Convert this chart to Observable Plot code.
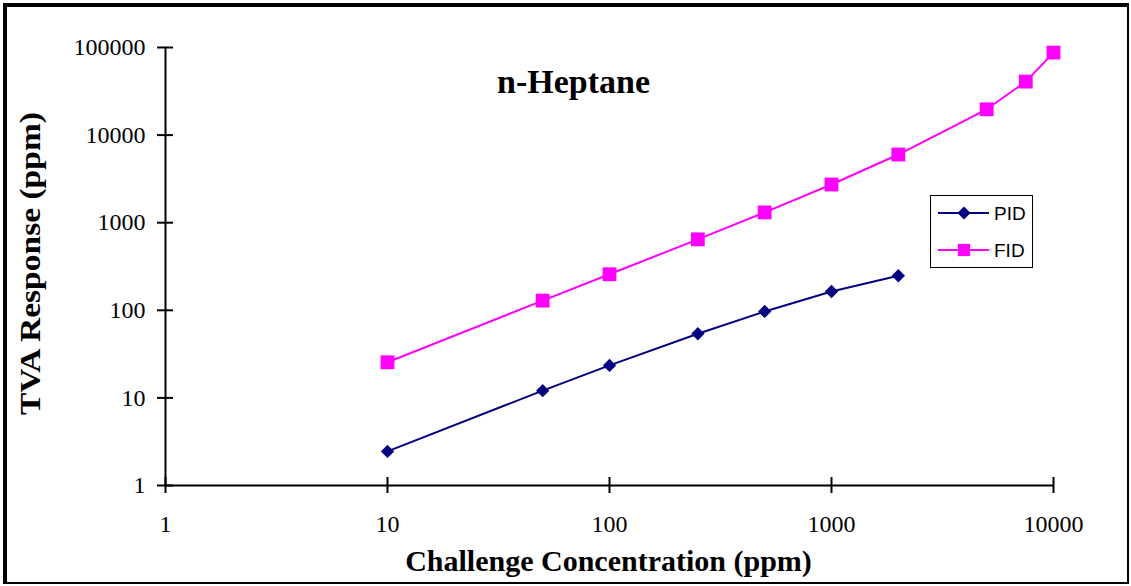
<!DOCTYPE html>
<html><head><meta charset="utf-8">
<script src="https://cdn.jsdelivr.net/npm/d3@7"></script>
<script src="https://cdn.jsdelivr.net/npm/@observablehq/plot@0.6"></script>
<style>
html,body{margin:0;padding:0;background:#fff;}
#wrap{position:relative;width:1131px;height:586px;}
#border{position:absolute;left:3px;top:3px;width:1126px;height:581px;box-sizing:border-box;border-style:solid;border-color:#000;border-width:4px 2px 2px 4px;pointer-events:none;}
#legend{position:absolute;left:930px;top:195px;}
</style></head>
<body><div id="wrap"><div id="border"></div></div>
<script>
const concPID = [10, 50, 100, 250, 500, 1000, 2000];
const respPID = [2.45, 12.1, 23.5, 54, 97, 164, 248];
const concFID = [10, 50, 100, 250, 500, 1000, 2000, 5000, 7500, 10000];
const respFID = [25.5, 129, 258, 645, 1310, 2730, 6000, 19700, 40800, 87500];
const xTicks = [1, 10, 100, 1000, 10000];
const yTicks = [1, 10, 100, 1000, 10000, 100000];
const seriesNames = ["PID", "FID"];
const seriesColors = ["#000080", "#ff00ff"];

const pid = concPID.map((c, i) => ({conc: c, resp: respPID[i], series: "PID"}));
const fid = concFID.map((c, i) => ({conc: c, resp: respFID[i], series: "FID"}));

const serif = "'Liberation Serif', 'Times New Roman', serif";

const chart = Plot.plot({
  width: 1131, height: 586,
  marginLeft: 165, marginRight: 78, marginTop: 47, marginBottom: 101,
  x: {type: "log", domain: [1, 10000], axis: null},
  y: {type: "log", domain: [1, 100000], axis: null},
  style: {fontFamily: serif, background: "transparent"},
  marks: [
    Plot.ruleX([1], {stroke: "#000", strokeWidth: 2}),
    Plot.ruleY([1], {stroke: "#000", strokeWidth: 2}),
    Plot.ruleY(yTicks, {y: d => d, x1: 1, x2: 1, insetLeft: -8, insetRight: -8, stroke: "#000", strokeWidth: 2}),
    Plot.ruleX(xTicks, {x: d => d, y1: 1, y2: 1, insetTop: -8, insetBottom: -8, stroke: "#000", strokeWidth: 2}),
    Plot.text(yTicks, {y: d => d, x: 1, text: d => String(d), textAnchor: "end", dx: -20, fontSize: 24, fill: "#000"}),
    Plot.text(xTicks, {x: d => d, y: 1, text: d => String(d), dy: 39, fontSize: 24, fill: "#000"}),
    Plot.line(pid, {x: "conc", y: "resp", stroke: seriesColors[0], strokeWidth: 2}),
    Plot.dot(pid, {x: "conc", y: "resp", symbol: "diamond2", r: 6, fill: seriesColors[0], stroke: null}),
    Plot.line(fid, {x: "conc", y: "resp", stroke: seriesColors[1], strokeWidth: 2}),
    Plot.dot(fid, {x: "conc", y: "resp", symbol: "square", r: 7.8, fill: seriesColors[1], stroke: null}),
    Plot.text(["n-Heptane"], {frameAnchor: "top", lineAnchor: "middle", textAnchor: "middle", dx: -36, dy: 35, fontSize: 34, fontWeight: "bold", fill: "#000"}),
    Plot.text(["Challenge Concentration (ppm)"], {frameAnchor: "bottom", lineAnchor: "middle", textAnchor: "middle", dx: -1, dy: 76, fontSize: 30, fontWeight: "bold", fill: "#000"}),
    Plot.text(["TVA Response (ppm)"], {frameAnchor: "left", lineAnchor: "middle", textAnchor: "middle", dx: -135, dy: -3, rotate: -90, fontSize: 29, fontWeight: "bold", fill: "#000", className: "ylabel"})
  ]
});
const wrap = document.getElementById("wrap");
wrap.insertBefore(chart, wrap.firstChild);
// stretch the y label to the width seen in the reference
chart.querySelectorAll(".ylabel text").forEach(t => {
  t.setAttribute("textLength", 303);
  t.setAttribute("lengthAdjust", "spacingAndGlyphs");
});

// legend
const sans = "'Liberation Sans', Arial, sans-serif";
const lg = d3.create("svg").attr("width", 104).attr("height", 74).style("font-family", sans);
lg.append("rect").attr("x", 0.5).attr("y", 0.5).attr("width", 102).attr("height", 72).attr("fill", "#fff").attr("stroke", "#000").attr("stroke-width", 1);
seriesNames.forEach((name, i) => {
  const cy = 18 + i * 37;
  lg.append("line").attr("x1", 8).attr("x2", 59).attr("y1", cy).attr("y2", cy).attr("stroke", seriesColors[i]).attr("stroke-width", 2);
  lg.append("path").attr("transform", `translate(34,${cy})`)
    .attr("d", d3.symbol(i === 0 ? d3.symbolDiamond2 : d3.symbolSquare, i === 0 ? 110 : 150)())
    .attr("fill", seriesColors[i]);
  lg.append("text").attr("x", 64).attr("y", cy + 7).attr("font-size", 19).attr("fill", "#000").text(name);
});
const ld = document.createElement("div");
ld.id = "legend";
ld.appendChild(lg.node());
wrap.appendChild(ld);
</script>
</body></html>
